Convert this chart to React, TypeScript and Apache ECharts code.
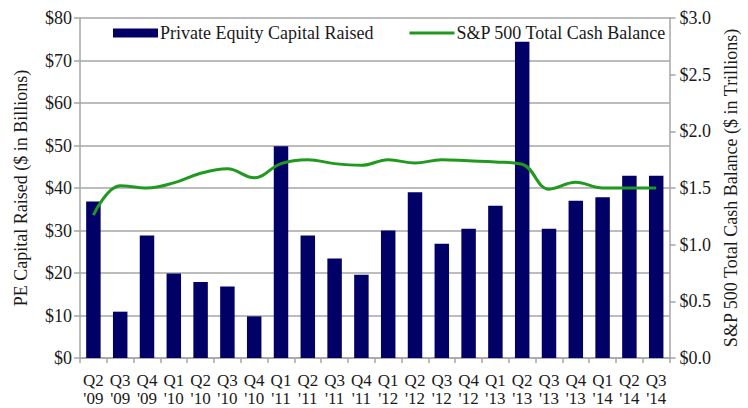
import React, { useEffect, useRef } from "react";
import * as echarts from "echarts";

const quarters = ["Q2", "Q3", "Q4", "Q1", "Q2", "Q3", "Q4", "Q1", "Q2", "Q3", "Q4", "Q1", "Q2", "Q3", "Q4", "Q1", "Q2", "Q3", "Q4", "Q1", "Q2", "Q3"];
const years = ["'09", "'09", "'09", "'10", "'10", "'10", "'10", "'11", "'11", "'11", "'11", "'12", "'12", "'12", "'12", "'13", "'13", "'13", "'13", "'14", "'14", "'14"];
const peCapitalRaised = [36.8, 10.9, 28.8, 19.9, 17.9, 16.8, 9.8, 49.8, 28.8, 23.4, 19.6, 30.0, 39.0, 26.9, 30.4, 35.8, 74.4, 30.4, 37.0, 37.8, 42.9, 42.9];
const spCashBalance = [1.26, 1.52, 1.5, 1.545, 1.63, 1.67, 1.59, 1.715, 1.75, 1.715, 1.7, 1.75, 1.72, 1.75, 1.74, 1.73, 1.71, 1.49, 1.55, 1.5, 1.5, 1.5];
const leftTicks = { min: 0, max: 80, interval: 10 };
const rightTicks = { min: 0, max: 3, interval: 0.5 };

const FONT = "Liberation Serif";
const TXT = "#1a1a1a";
const GRID = "#a6a6a6";

export default function App() {
  const ref = useRef<HTMLDivElement>(null);
  useEffect(() => {
    if (!ref.current) return;
    const chart = echarts.init(ref.current, null, { renderer: "svg" });
    const categories = quarters.map((q, i) => q + "\n" + years[i]);
    chart.setOption({
      animation: false,
      backgroundColor: "#ffffff",
      textStyle: { fontFamily: FONT },
      grid: { left: 80, right: 71, top: 18, bottom: 50 },
      legend: {
        left: 108,
        top: 19,
        itemWidth: 45,
        itemHeight: 9,
        itemGap: 36,
        symbolKeepAspect: true,
        textStyle: { fontFamily: FONT, fontSize: 18, color: TXT, padding: [0, 0, 0, -3] },
        data: [
          { name: "Private Equity Capital Raised", icon: "rect" },
          { name: "S&P 500 Total Cash Balance", icon: "path://M0,0 L45,0 L45,3 L0,3 Z" },
        ],
      },
      xAxis: {
        type: "category",
        data: categories,
        boundaryGap: true,
        axisLine: { lineStyle: { color: GRID, width: 1.5 } },
        axisTick: { show: true, length: 5, lineStyle: { color: GRID, width: 1.5 } },
        axisLabel: {
          interval: 0,
          fontFamily: FONT,
          fontSize: 17,
          lineHeight: 18,
          color: TXT,
          margin: 13,
        },
      },
      yAxis: [
        {
          type: "value",
          ...leftTicks,
          name: "PE Capital Raised ($ in Billions)",
          nameLocation: "middle",
          nameGap: 50,
          nameTextStyle: { fontFamily: FONT, fontSize: 18, color: TXT },
          axisLine: { show: true, lineStyle: { color: GRID, width: 1.5 } },
          axisTick: { show: true, length: 6, lineStyle: { color: GRID, width: 1.5 } },
          axisLabel: { fontFamily: FONT, fontSize: 18, color: TXT, margin: 8, formatter: (v: number) => "$" + v },
          splitLine: { show: true, lineStyle: { color: GRID, width: 1.5 } },
        },
        {
          type: "value",
          ...rightTicks,
          name: "S&P 500 Total Cash Balance ($ in Trillions)",
          nameLocation: "middle",
          nameGap: 52,
          nameRotate: 90,
          nameTextStyle: { fontFamily: FONT, fontSize: 18, color: TXT },
          axisLine: { show: true, lineStyle: { color: GRID, width: 1.5 } },
          axisTick: { show: true, length: 6, lineStyle: { color: GRID, width: 1.5 } },
          axisLabel: { fontFamily: FONT, fontSize: 18, color: TXT, margin: 10, formatter: (v: number) => "$" + v.toFixed(1) },
          splitLine: { show: false },
        },
      ],
      series: [
        {
          name: "Private Equity Capital Raised",
          type: "bar",
          data: peCapitalRaised,
          yAxisIndex: 0,
          barCategoryGap: "46%",
          itemStyle: { color: "#000066" },
        },
        {
          name: "S&P 500 Total Cash Balance",
          type: "line",
          data: spCashBalance,
          yAxisIndex: 1,
          smooth: 0.4,
          symbol: "none",
          lineStyle: { color: "#1f9a1f", width: 3 },
          itemStyle: { color: "#1f9a1f" },
        },
      ],
    });
    return () => chart.dispose();
  }, []);
  return <div ref={ref} style={{ width: 748, height: 408, position: "absolute", left: 0, top: 0 }} />;
}
